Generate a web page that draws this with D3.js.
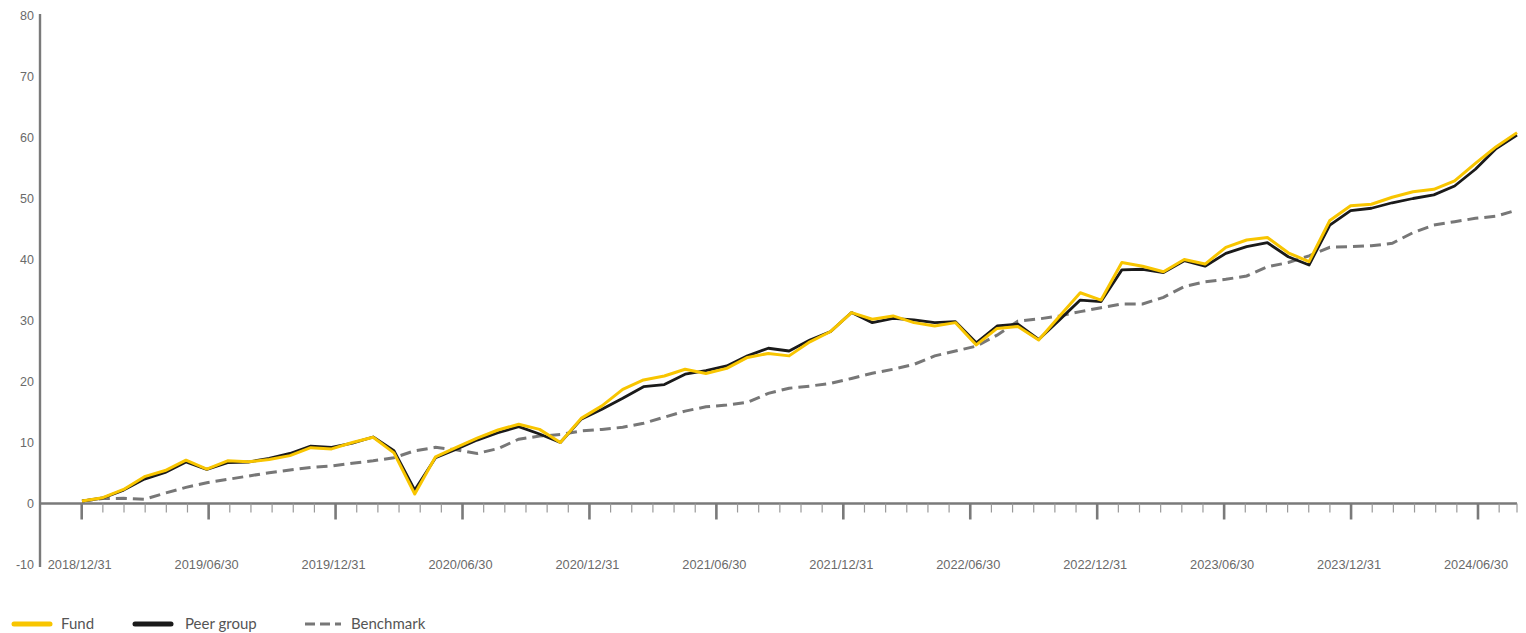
<!DOCTYPE html>
<html>
<head>
<meta charset="utf-8">
<script src="https://cdn.jsdelivr.net/npm/d3@7"></script>
<style>
  html, body { margin: 0; padding: 0; background: #fff; }
  svg { display: block; }
</style>
</head>
<body>
<script>
// ---------- DATA ----------
const fund = [0.4,0.95,2.3,4.4,5.4,7.1,5.65,7.0,6.85,7.2,7.85,9.15,8.95,10.0,
  10.85,8.3,1.55,7.65,9.2,10.7,12.05,13.0,12.15,10.0,13.95,16.0,18.7,20.25,
  20.9,22.0,21.3,22.15,23.95,24.6,24.2,26.5,28.2,31.3,30.2,30.75,29.65,29.1,
  29.65,26.0,28.7,29.0,26.8,30.7,34.55,33.35,39.5,38.9,38.0,40.0,39.25,
  42.0,43.2,43.6,41.1,39.65,46.4,48.8,49.05,50.2,51.1,51.5,52.9,55.75,58.5,60.8];
const peer = [0.4,0.9,2.2,4.0,5.1,6.8,5.6,6.7,6.8,7.4,8.2,9.4,9.2,9.9,
  10.9,8.65,2.2,7.5,8.9,10.4,11.6,12.6,11.4,10.0,13.8,15.45,17.25,19.15,
  19.5,21.2,21.8,22.55,24.2,25.45,25.0,26.8,28.2,31.3,29.65,30.35,30.1,29.65,
  29.8,26.35,29.1,29.4,26.9,30.1,33.35,33.1,38.3,38.4,37.85,39.8,38.9,
  41.0,42.1,42.75,40.45,39.1,45.65,48.0,48.4,49.3,50.0,50.6,52.05,54.8,58.2,60.4];
const benchmark = [0.4,0.8,0.85,0.7,1.7,2.65,3.4,3.95,4.5,5.05,5.5,5.9,6.15,6.6,
  7.0,7.5,8.65,9.2,8.8,8.2,9.0,10.55,11.05,11.3,11.9,12.15,12.5,13.15,
  14.15,15.15,15.85,16.15,16.6,18.05,18.9,19.25,19.7,20.5,21.35,22.0,22.8,24.2,
  25.0,25.8,27.6,29.9,30.25,30.75,31.45,32.1,32.7,32.7,33.8,35.55,36.35,
  36.75,37.3,38.8,39.5,40.6,42.0,42.1,42.25,42.65,44.4,45.65,46.2,46.75,47.1,48.1];
const xLabels = ["2018/12/31","2019/06/30","2019/12/31","2020/06/30","2020/12/31","2021/06/30",
  "2021/12/31","2022/06/30","2022/12/31","2023/06/30","2023/12/31","2024/06/30"];
const yTicks = [-10,0,10,20,30,40,50,60,70,80];
const seriesNames = ["Fund","Peer group","Benchmark"];

// ---------- LAYOUT ----------
const W = 1526, H = 633;
const svg = d3.select("body").append("svg").attr("width", W).attr("height", H);

const axisColor = "#7a7a7a";
const textColor = "#6a6a6a";
const colors = { "Fund": "#F8C500", "Peer group": "#1a1a1a", "Benchmark": "#777" };

const y = d3.scaleLinear().domain([-10, 80]).range([564.5, 15.5]);
const x = d3.scaleLinear().domain([0, fund.length - 1]).range([82, 1517]);
const nMonths = (xLabels.length - 1) * 6; // 66
const xm = d3.scaleLinear().domain([0, nMonths]).range([81.7, 1478]);

// Y axis line
svg.append("line")
  .attr("x1", 40).attr("x2", 40)
  .attr("y1", y(80) - 1.5).attr("y2", y(-10) + 2.5)
  .attr("stroke", axisColor).attr("stroke-width", 2.4);

// Y labels
svg.append("g").selectAll("text").data(yTicks).join("text")
  .attr("x", 34).attr("y", d => y(d))
  .attr("dy", "0.35em")
  .attr("text-anchor", "end")
  .attr("font-family", "'Liberation Sans', Arial, sans-serif")
  .attr("font-size", 12.5)
  .attr("fill", textColor)
  .text(d => d);

// X axis line at y=0
const y0 = y(0);
svg.append("line")
  .attr("x1", 40).attr("x2", x(fund.length - 1))
  .attr("y1", y0).attr("y2", y0)
  .attr("stroke", axisColor).attr("stroke-width", 2.4);

// Minor ticks (monthly)
const minor = d3.range(0, nMonths + 2).filter(m => m % 6 !== 0);
svg.append("g").selectAll("line").data(minor).join("line")
  .attr("x1", m => xm(m)).attr("x2", m => xm(m))
  .attr("y1", y0).attr("y2", y0 + 9)
  .attr("stroke", "#999").attr("stroke-width", 1.2);
svg.append("line")
  .attr("x1", x(fund.length - 1)).attr("x2", x(fund.length - 1))
  .attr("y1", y0).attr("y2", y0 + 9)
  .attr("stroke", "#999").attr("stroke-width", 1.2);

// Major ticks + labels
svg.append("g").selectAll("line").data(xLabels).join("line")
  .attr("x1", (d, i) => xm(i * 6)).attr("x2", (d, i) => xm(i * 6))
  .attr("y1", y0).attr("y2", y0 + 16)
  .attr("stroke", axisColor).attr("stroke-width", 2.6);
svg.append("g").selectAll("text").data(xLabels).join("text")
  .attr("x", (d, i) => xm(i * 6) - 2).attr("y", 565)
  .attr("dy", "0.35em")
  .attr("text-anchor", "middle")
  .attr("font-family", "'Liberation Sans', Arial, sans-serif")
  .attr("font-size", 12.8)
  .attr("fill", textColor)
  .text(d => d);

// Lines
const line = d3.line().x((d, i) => x(i)).y(d => y(d)).curve(d3.curveLinear);
svg.append("path").datum(benchmark)
  .attr("d", line).attr("fill", "none")
  .attr("stroke", colors["Benchmark"]).attr("stroke-width", 3)
  .attr("stroke-dasharray", "11,6");
svg.append("path").datum(peer)
  .attr("d", line).attr("fill", "none")
  .attr("stroke", colors["Peer group"]).attr("stroke-width", 2.8)
  .attr("stroke-linejoin", "round");
svg.append("path").datum(fund)
  .attr("d", line).attr("fill", "none")
  .attr("stroke", colors["Fund"]).attr("stroke-width", 3)
  .attr("stroke-linejoin", "round");

// Legend
const legendX = [14, 135, 305];
const textOffset = [47, 50, 46];
const lg = svg.append("g").selectAll("g").data(seriesNames).join("g")
  .attr("transform", (d, i) => `translate(${legendX[i]},624)`);
lg.append("line")
  .attr("x1", 0).attr("x2", 36).attr("y1", 0).attr("y2", 0)
  .attr("stroke", d => colors[d])
  .attr("stroke-width", d => d === "Benchmark" ? 3 : 5)
  .attr("stroke-linecap", d => d === "Benchmark" ? "butt" : "round")
  .attr("stroke-dasharray", d => d === "Benchmark" ? "10,5" : null);
lg.append("text")
  .attr("x", (d, i) => textOffset[i]).attr("y", 0).attr("dy", "0.35em")
  .attr("font-family", "Lato, 'Open Sans', sans-serif")
  .attr("font-size", 15)
  .attr("fill", "#555")
  .text(d => d);
</script>
</body>
</html>
